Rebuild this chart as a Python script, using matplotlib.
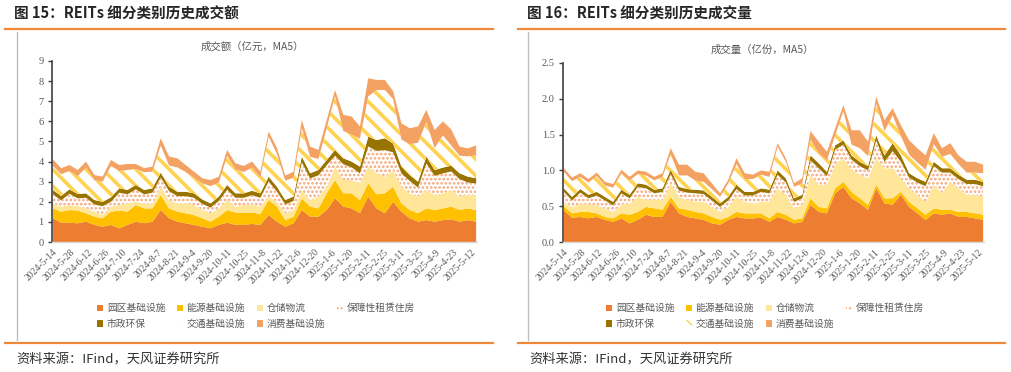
import numpy as np
import matplotlib
matplotlib.use('Agg')
import matplotlib.pyplot as plt
from matplotlib.lines import Line2D

plt.rcParams['font.family'] = ['Noto Sans CJK SC', 'DejaVu Sans']

# ---------------- data ----------------
series_names = ['园区基础设施', '能源基础设施', '仓储物流', '保障性租赁住房',
                '市政环保', '交通基础设施', '消费基础设施']
tick_labels = ['2024-5-14', '2024-5-28', '2024-6-12', '2024-6-26', '2024-7-10',
               '2024-7-24', '2024-8-7', '2024-8-21', '2024-9-4', '2024-9-20',
               '2024-10-11', '2024-10-25', '2024-11-8', '2024-11-22', '2024-12-6',
               '2024-12-20', '2025-1-6', '2025-1-20', '2025-2-11', '2025-2-25',
               '2025-3-11', '2025-3-25', '2025-4-9', '2025-4-23', '2025-5-12']
N_DAYS = 244  # trading days covered (2024-5-14 .. 2025-5-15), values sampled ~weekly

# 成交额 (亿元, MA5)
yuanqu_amt = [1.18, .96, .96, .93, 1.01, .85, .76, .85, .68, .85, 1.01, .93, 1.01,
              1.59, 1.18, 1.01, .93, .85, .76, .68, .85, .96, .85, .85, .90, .85,
              1.34, 1.01, .76, .93, 1.59, 1.26, 1.26, 1.59, 2.17, 1.76, 1.67, 1.43,
              2.26, 1.67, 1.43, 2.0, 1.51, 1.18, 1.01, 1.09, 1.01, 1.09, 1.13, 1.01,
              1.09, 1.01]
nengyuan_amt = [.49, .55, .63, .63, .42, .41, .42, .66, .88, .66, .83, .74, .66,
                .75, .49, .50, .50, .49, .42, .33, .41, .63, .61, .61, .57, .54,
                .75, .75, .33, .33, .58, .50, .41, .83, .91, .66, .75, .66, .66,
                .70, .99, .75, .41, .41, .42, .58, .58, .58, .63, .58, .58, .58]
cangchu_amt = [.25, .25, .25, .23, .24, .25, .16, .25, .28, .41, .16, .25, .25,
               .41, .42, .41, .49, .50, .41, .42, .41, .50, .30, .38, .41, .37,
               .17, .24, .34, .33, .42, .33, .59, .33, .67, .66, .66, .83, .83,
               1.05, .83, .83, .83, .83, .83, .92, .75, .75, .83, .67, .67, .75]
baozhang_amt = [.45, .31, .56, .38, .53, .36, .44, .24, .61, .45, .62, .45, .53,
                .46, .44, .36, .36, .36, .31, .28, .37, .51, .44, .36, .45, .44,
                .75, .51, .44, .45, 1.37, 1.07, 1.06, 1.07, .54, .79, .63, .49,
                1.0, 1.11, 1.32, .88, .66, .62, .45, 1.32, .95, .99, .92, .87,
                .62, .57]
shizheng_amt = [.22, .22, .22, .22, .22, .22, .22, .22, .22, .22, .22, .22, .22,
                .24, .22, .22, .22, .22, .22, .21, .22, .24, .22, .22, .22, .22,
                .24, .24, .22, .22, .29, .26, .26, .26, .29, .29, .29, .34, .49,
                .54, .59, .44, .34, .29, .29, .34, .29, .29, .29, .29, .29, .26]
jiaotong_amt = [1.20, 1.08, .91, .89, 1.28, .99, 1.0, 1.56, .86, .99, .79, .88,
                .83, 1.36, 1.05, 1.21, .98, .78, .80, .86, .69, 1.44, 1.19, 1.06,
                1.15, .78, 1.99, 1.63, .96, .94, 1.42, .82, .55, 1.59, 2.68, 1.36,
                1.34, 1.39, 2.0, 2.49, 2.4, 2.2, 1.35, 1.53, 1.94, 1.72, 1.09, 1.6,
                1.0, .87, 1.01, 1.13]
xiaofei_amt = [.32, .30, .30, .30, .30, .25, .25, .30, .30, .30, .25, .20, .25,
               .35, .45, .45, .35, .30, .25, .30, .30, .30, .30, .30, .30, .30,
               .25, .30, .25, .30, .40, .50, .45, .40, .30, .80, .90, .60, .90,
               .50, .50, .40, .80, .80, .80, .60, .90, .70, .80, .45, .40, .50]

# 成交量 (亿份, MA5)
yuanqu_vol = [.44, .34, .35, .33, .35, .31, .28, .33, .26, .31, .38, .35, .35,
              .56, .40, .35, .33, .31, .26, .24, .31, .35, .33, .33, .34, .28,
              .35, .31, .26, .28, .52, .42, .40, .68, .77, .61, .54, .45, .75,
              .54, .52, .66, .49, .40, .31, .40, .38, .40, .35, .35, .33, .31]
nengyuan_vol = [.06, .06, .07, .09, .05, .04, .05, .07, .12, .11, .11, .12, .10,
                .07, .07, .10, .09, .09, .09, .07, .04, .07, .07, .07, .06, .05,
                .07, .07, .05, .05, .09, .07, .07, .07, .07, .09, .07, .07, .05,
                .07, .09, .04, .07, .07, .07, .07, .07, .05, .07, .07, .07, .07]
cangchu_vol = [.06, .09, .12, .10, .12, .12, .09, .12, .16, .21, .10, .12, .14,
               .19, .16, .14, .14, .16, .14, .11, .14, .21, .16, .14, .16, .23,
               .33, .28, .16, .19, .33, .31, .33, .33, .33, .31, .33, .37, .37,
               .42, .42, .19, .19, .19, .18, .33, .23, .39, .33, .24, .26, .25]
baozhang_vol = [.14, .09, .15, .09, .13, .11, .09, .16, .07, .14, .16, .09, .11,
                .13, .09, .10, .12, .11, .09, .07, .09, .11, .09, .11, .14, .12,
                .19, .17, .09, .09, .20, .23, .12, .21, .19, .14, .12, .11, .25,
                .09, .24, .23, .15, .17, .22, .26, .29, .13, .13, .15, .15, .15]
shizheng_vol = [.05, .05, .05, .05, .05, .05, .05, .05, .05, .05, .05, .05, .05,
                .06, .05, .05, .05, .05, .05, .05, .05, .06, .05, .05, .05, .05,
                .06, .06, .05, .05, .07, .07, .06, .06, .06, .06, .06, .06, .07,
                .09, .11, .09, .06, .06, .06, .06, .06, .06, .06, .06, .06, .06]
jiaotong_vol = [.23, .22, .17, .17, .22, .16, .20, .23, .20, .13, .13, .13, .16,
                .22, .16, .19, .13, .12, .11, .09, .19, .29, .18, .18, .19, .18,
                .33, .23, .16, .16, .22, .14, .16, .14, .41, .15, .19, .14, .44,
                .34, .39, .27, .26, .22, .17, .25, .16, .20, .15, .10, .10, .12]
xiaofei_vol = [.05, .05, .05, .05, .05, .05, .05, .05, .05, .05, .05, .05, .05,
               .08, .15, .15, .12, .12, .08, .05, .05, .08, .08, .06, .06, .07,
               .05, .05, .05, .07, .12, .16, .12, .10, .08, .20, .25, .20, .10,
               .15, .10, .15, .20, .20, .20, .15, .12, .15, .12, .15, .15, .12]

amt_series = [yuanqu_amt, nengyuan_amt, cangchu_amt, baozhang_amt,
              shizheng_amt, jiaotong_amt, xiaofei_amt]
vol_series = [yuanqu_vol, nengyuan_vol, cangchu_vol, baozhang_vol,
              shizheng_vol, jiaotong_vol, xiaofei_vol]

# ---------------- styling ----------------
W, H = 1011, 372
fig = plt.figure(figsize=(W / 100, H / 100), dpi=100)

ORANGE_LINE = '#F0883A'
styles = [
    dict(facecolor='#ED7D31', edgecolor='none'),
    dict(facecolor='#FFC000', edgecolor='none'),
    dict(facecolor='#FFE699', edgecolor='none'),
    dict(facecolor='white', edgecolor='#F4A77A', hatch='....', hlw=1.3),
    dict(facecolor='#997300', edgecolor='none'),
    dict(facecolor='white', edgecolor='#FFD34F', hatch='\\\\', hlw=2.6),
    dict(facecolor='#F4A264', edgecolor='none'),
]
SERIF = 'Liberation Serif'
GRAY = '#595959'


def px(x, y):
    return x / W, 1 - y / H


def draw_panel(series, ax_box, ylim, yticks, yfmt, subtitle, sub_xy,
               title, title_x, frame_x0, frame_x1, vline_x, legend_cx):
    l, t = px(ax_box[0], ax_box[1])
    r, b = px(ax_box[2], ax_box[3])
    ax = fig.add_axes([l, b, r - l, t - b])
    x = np.linspace(0, N_DAYS - 1, len(series[0]))
    base = np.zeros(len(x))
    handles = []
    for vals, st, name in zip(series, styles, series_names):
        top = base + np.asarray(vals)
        hatch = st.get('hatch')
        if hatch:
            with plt.rc_context({'hatch.linewidth': st['hlw']}):
                pc = ax.fill_between(x, base, top, facecolor=st['facecolor'],
                                     edgecolor=st['edgecolor'], hatch=hatch,
                                     linewidth=0, label=name)
                if hasattr(pc, 'set_hatch_linewidth'):
                    pc.set_hatch_linewidth(st['hlw'])
        else:
            pc = ax.fill_between(x, base, top, facecolor=st['facecolor'],
                                 edgecolor='none', linewidth=0, label=name)
        handles.append(pc)
        base = top
    ax.set_xlim(-0.5, N_DAYS - 0.5)
    ax.set_ylim(*ylim)
    ax.set_yticks(yticks)
    ax.set_yticklabels([yfmt.format(v) for v in yticks], fontfamily=SERIF,
                       fontsize=7.5, color=GRAY)
    ax.set_xticks(np.arange(0, len(tick_labels) * 10, 10))
    ax.set_xticklabels(tick_labels, rotation=45, ha='right',
                       rotation_mode='anchor', fontfamily=SERIF, fontsize=7,
                       color=GRAY)
    ax.tick_params(axis='x', length=0, pad=4)
    ax.tick_params(axis='y', length=3, width=1, color='#404040', pad=3)
    for s in ('top', 'right'):
        ax.spines[s].set_visible(False)
    ax.spines['left'].set_color('#404040')
    ax.spines['left'].set_linewidth(1.2)
    ax.spines['bottom'].set_color('#D9D9D9')
    ax.spines['bottom'].set_linewidth(1.0)
    ax.set_facecolor('none')

    # subtitle
    sx, sy = px(*sub_xy)
    fig.text(sx, sy, subtitle, ha='center', va='center', fontsize=7.5, color=GRAY)

    # legend (row-major order emulated)
    order = [0, 4, 1, 5, 2, 6, 3]
    lx, ly = px(legend_cx, 316)
    ax.legend([handles[i] for i in order], [series_names[i] for i in order],
              ncol=4, loc='center', bbox_to_anchor=(lx, ly),
              bbox_transform=fig.transFigure, frameon=False, fontsize=7,
              labelcolor=GRAY, handlelength=0.6, handleheight=0.6,
              handletextpad=0.4, columnspacing=1.2, labelspacing=0.6)

    # header
    tx, ty = px(title_x, 14)
    fig.text(tx, ty, title, ha='left', va='center', fontsize=10.5,
             fontweight='bold', color='#262626')
    for yy in (29, 343):
        x0, y0 = px(frame_x0, yy)
        x1, _ = px(frame_x1, yy)
        fig.add_artist(Line2D([x0, x1], [y0, y0], transform=fig.transFigure,
                              color=ORANGE_LINE, lw=1.6))
    vx, vy0 = px(vline_x, 32)
    _, vy1 = px(vline_x, 340)
    fig.add_artist(Line2D([vx, vx], [vy0, vy1], transform=fig.transFigure,
                          color='#BFBFBF', lw=1.0))
    fx, fy = px(title_x + 2, 360)
    fig.text(fx, fy, '资料来源：IFind，天风证券研究所', ha='left', va='center',
             fontsize=9.5, color='#333333')
    return ax


draw_panel(amt_series, (52, 61, 477, 242), (0, 9), list(range(0, 10)), '{:d}',
           '成交额（亿元，MA5）', (252, 47), '图 15：REITs 细分类别历史成交额', 14,
           5, 493, 17, 256)
draw_panel(vol_series, (563, 63, 984, 242), (0, 2.5),
           [0.0, 0.5, 1.0, 1.5, 2.0, 2.5], '{:.1f}',
           '成交量（亿份，MA5）', (762, 50), '图 16：REITs 细分类别历史成交量', 527,
           518, 1005, 528, 765)

fig.savefig('out.png', dpi=100)
